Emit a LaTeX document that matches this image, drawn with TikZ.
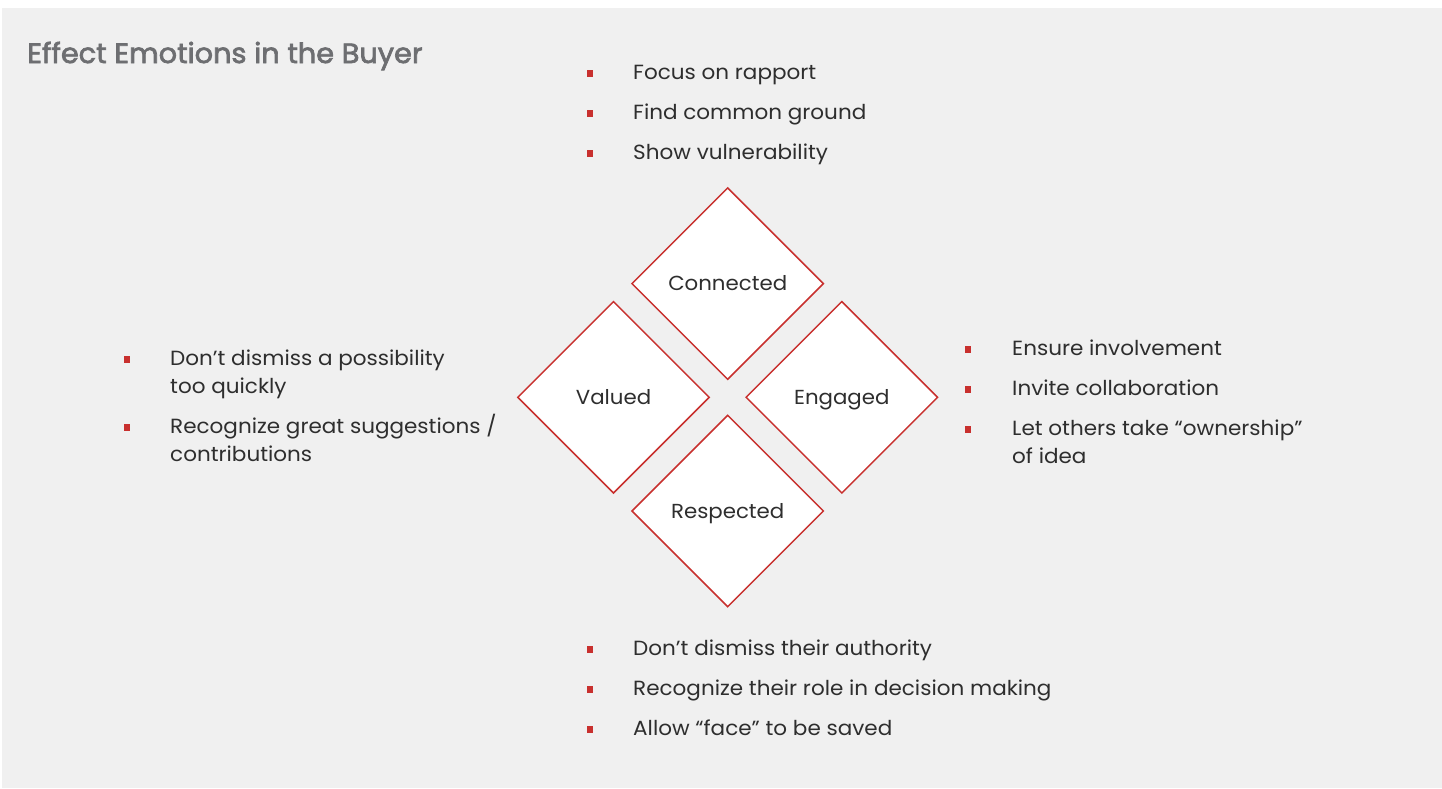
\documentclass[tikz,border=0pt]{standalone}
\usepackage{fontspec}
\setmainfont{Poppins}[FakeStretch=1.05]
\newfontfamily\titlefont{Poppins}[FakeBold=2.5,FakeStretch=1.035]
\usetikzlibrary{shapes.geometric}
\definecolor{pagebg}{HTML}{F0F0F0}
\definecolor{accent}{HTML}{C8302E}
\definecolor{bodytext}{HTML}{2E2E2E}
\definecolor{heading}{HTML}{6D6E71}
\begin{document}
\begin{tikzpicture}[x=1pt,y=-1pt,
  facet/.style={diamond, draw=accent, line width=1.5pt, fill=white,
    minimum width=192pt, minimum height=192pt, inner sep=0pt,
    text height=14.4pt, text depth=0pt,
    font=\fontsize{20.3}{24}\selectfont, text=bodytext},
  item/.style={anchor=base west, inner sep=0pt, align=left,
    font=\fontsize{20.5}{28}\selectfont, text=bodytext},
  dot/.style={fill=accent, minimum size=6.5pt, inner sep=0pt}
]
\useasboundingbox (0,0) rectangle (1442,788);
\fill[white] (0,0) rectangle (1442,788);
\fill[pagebg] (2,8) rectangle (1442,788);

% title
\node[anchor=base west, inner sep=0pt, text=heading,
  font=\fontsize{27.8}{32}\titlefont] (title) at (27,63)
  {Effect Emotions in the Buyer};

% the four facets
\node[facet] (connected) at (727.7,283.6) {Connected};
\node[facet] (valued)    at (613.5,397.3) {Valued};
\node[facet] (engaged)   at (841.8,397.3) {Engaged};
\node[facet] (respected) at (727.7,511)   {Respected};

% connected (multi-line items are placed by the baseline of their last line)
\node[dot] (c1b) at (590,73.5) {};
\node[item] (c1) at (633,79) {Focus on rapport};
\node[dot] (c2b) at (590,113.5) {};
\node[item] (c2) at (633,119) {Find common ground};
\node[dot] (c3b) at (590,153.5) {};
\node[item] (c3) at (633,159) {Show vulnerability};

% valued
\node[dot] (v1b) at (127,359.5) {};
\node[item] (v1) at (170,393) {Don’t dismiss a possibility\\too quickly};
\node[dot] (v2b) at (127,427.5) {};
\node[item] (v2) at (170,461) {Recognize great suggestions /\\contributions};

% engaged
\node[dot] (e1b) at (968,349.5) {};
\node[item] (e1) at (1012,355) {Ensure involvement};
\node[dot] (e2b) at (968,389.5) {};
\node[item] (e2) at (1012,395) {Invite collaboration};
\node[dot] (e3b) at (968,429.5) {};
\node[item] (e3) at (1012,463) {Let others take “ownership”\\of idea};

% respected
\node[dot] (r1b) at (590,649.5) {};
\node[item] (r1) at (633,655) {Don’t dismiss their authority};
\node[dot] (r2b) at (590,689.5) {};
\node[item] (r2) at (633,695) {Recognize their role in decision making};
\node[dot] (r3b) at (590,729.5) {};
\node[item] (r3) at (633,735) {Allow “face” to be saved};
\end{tikzpicture}
\end{document}
